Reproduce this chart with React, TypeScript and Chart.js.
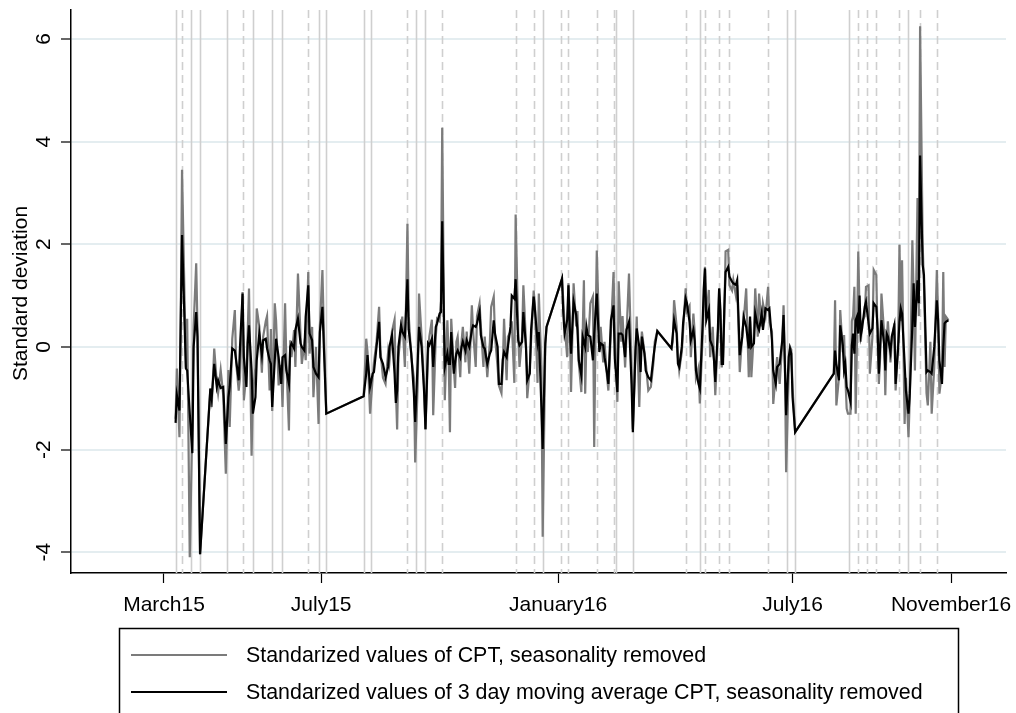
import React, { useEffect, useRef } from "react";
import { Chart, registerables } from "chart.js";

Chart.register(...registerables);

// Day numbers are counted from 1 March 2015.
const tickDays = [0, 122, 306, 488, 611];
const tickLabels = ["March15", "July15", "January16", "July16", "November16"];
const yTickValues = [-4, -2, 0, 2, 4, 6];

const eventDaysSolid = [9, 21, 28, 49, 69, 84, 92, 120, 126, 155, 161, 196, 203, 294, 351, 364, 416, 484, 490, 532, 578];
const eventDaysDashed = [14, 61, 112, 189, 216, 273, 287, 308, 314, 336, 349, 405, 420, 431, 439, 469, 539, 546, 553, 571, 587, 600];

const dayIndex = [
  9, 10, 12, 13, 14, 17, 18, 20, 22, 23, 25, 26, 28, 36, 37, 39, 41, 42, 44, 46, 48, 50, 51, 53, 55, 56, 58, 59, 61, 62,
  64, 65, 66, 68, 69, 71, 72, 74, 76, 77, 79, 80, 82, 83, 84, 86, 87, 89, 91, 92, 94, 95, 97, 98, 99, 101, 102, 104, 106, 107,
  109, 110, 112, 113, 115, 116, 118, 120, 121, 123, 124, 126,
  155, 157, 158, 160, 162, 163, 165, 167, 168, 170, 172, 174, 175, 177, 179, 180, 181, 182, 184, 185, 187, 189, 190, 192,
  194, 195, 197, 198, 200, 202, 203, 205, 206, 208, 209, 211, 212, 214, 215, 216, 218, 220, 221, 222, 223, 225, 226, 227, 228, 230,
  231, 232, 234, 235, 237, 239, 240, 242, 243, 245, 246, 248, 249, 251, 253, 254, 256, 257, 259, 260, 262, 263, 264, 266,
  267, 269, 270, 272, 273, 275, 276, 278, 279, 281, 282, 284, 285, 287, 288, 290, 291, 293, 294, 296, 297,
  309, 310, 311, 313, 314, 315, 316, 318, 320, 321, 322, 324, 325, 326, 327, 328, 329, 331, 333, 334, 335, 336, 338, 339, 341,
  342, 344, 345, 347, 349, 350, 352, 353, 355, 356, 358, 359, 361, 363, 364, 366, 367, 369, 370, 371, 373, 374, 376, 378, 380,
  381, 383, 394, 395, 396, 398, 399, 400, 402, 403, 405, 406, 408, 409, 411, 412, 413, 415, 416, 418, 419, 420, 421, 423, 424,
  426, 427, 428, 430, 431, 432, 433, 434, 435, 436, 438, 439, 441, 442, 444, 445, 446, 447, 449, 450, 452, 454, 455, 456, 458,
  459, 461, 462, 464, 465, 467, 469, 470, 472, 473, 475, 476, 478, 480, 481, 482, 483, 485, 486, 487, 488, 490,
  520, 521, 522, 524, 525, 527, 528, 529, 530, 531, 533, 534, 535, 536, 537, 538, 539, 540, 541, 542, 544, 545, 547, 548, 550,
  551, 553, 554, 555, 556, 557, 559, 560, 561, 562, 564, 565, 567, 568, 570, 571, 572, 573, 575, 576, 578, 579, 581, 582, 583,
  585, 586, 587, 589, 590, 592, 593, 595, 596, 598, 600, 601, 602, 604, 605, 606, 607, 609,
];

// Standardized CPT, seasonality removed
const cptValues = [
  -1.4, -0.42, -1.76, 0.6, 3.45, -0.4, 0.55, -4.1, -1.5, 0.4, 1.63, 0.4, -4.04, -0.81, -1.17, -0.03, -0.7, -0.9, -0.45, -0.95, -2.47, -0.45, -1.56, 0.16, 0.72, -0.3, -0.85, -0.6, 1.07, -1.04,
  -0.5, 0.3, 1.14, -2.12, -0.9, -0.4, 0.75, 0.4, -0.5, 0.2, 0.5, 0.6, -0.85, 0.35, -1.25, 0.85, 0.52, -0.75, -0.35, -1.17, 0.85, -0.3, -1.63, 0.13, -0.2, 0.33, -0.39, 1.43, 0.23, -0.33,
  0.07, -0.26, 1.46, -0.13, 0.39, -0.98, 0.0, -1.5, 0.39, 1.5, 0.39, -1.3,
  -0.96, 0.16, -0.1, -1.3, -0.6, -0.3, 0.1, 0.78, -0.05, -0.6, -0.72, -0.1, -0.3, 0.3, 0.53, -0.8, -1.61, -0.2, 0.3, 0.59, -0.39, 2.4, 0.6, -0.2,
  -0.6, -2.25, -0.7, 1.04, 0.2, -0.8, -1.62, -0.1, 0.2, 0.53, -1.33, 0.2, 0.55, 0.5, 0.9, 4.27, -1.04, 0.52, -0.2, -1.66, 0.55, -0.4, -0.8, 0.1, 0.2, -0.59,
  0.1, 0.39, -0.3, 0.3, -0.52, 0.81, 0.3, -0.39, 0.6, 0.85, 0.4, -0.39, 0.2, -0.59, 0.1, 0.78, 0.98, 0.2, -0.4, -0.75, -0.9, -0.4, 0.55, -0.65,
  0.2, 0.3, 0.5, -0.7, 2.58, 0.3, -0.39, 0.2, 1.2, 0.1, -1.0, -0.39, 0.1, 1.1, 0.8, -0.7, 1.04, -0.4, -3.7, 0.0, 0.39,
  1.33, 0.9, 0.46, -0.2, 1.24, 0.6, -0.88, 1.24, 0.4, 0.7, -0.3, -0.88, 0.2, 1.3, -0.91, 0.2, -0.1, 0.85, 0.98, -1.95, 0.3, 1.88, 0.1, 0.39, -0.3,
  0.1, -0.6, -0.85, 0.3, 1.46, 0.2, -1.07, 1.28, 0.1, 0.6, -0.4, 0.2, 1.43, -0.4, -1.6, -0.2, 0.59, -1.17, -0.2, 0.3, -0.1, -0.3, -0.85, -0.78, -0.3,
  0.1, 0.31, -0.03, 0.1, 0.91, 0.4, -0.2, -0.46, -0.1, 0.3, 1.14, 0.7, 0.8, -0.2, 0.65, 0.3, -0.6, -0.4, -1.1, 0.1, 0.8, 1.56, 0.6, 1.11, -0.2,
  0.39, -0.2, -0.94, 0.2, 1.14, 0.5, -0.4, -0.2, 0.6, 1.86, 1.89, 1.2, 1.1, 1.3, 1.0, 1.2, 0.4, -0.49, 0.3, 0.5, 1.14, -0.59, 0.5, -0.59, 0.3,
  1.14, 0.2, 1.04, 0.4, 0.85, 0.6, 1.17, 0.5, 0.3, -1.11, -0.5, -0.2, -0.72, 0.1, 0.81, -0.2, -2.44, -0.5, 0.0, -0.05, -0.8, -1.66,
  -0.52, 0.91, -1.14, -0.6, 0.72, -0.1, 0.23, -0.6, -1.2, -1.3, -1.3, 0.5, 0.6, 1.17, -1.3, 0.1, 1.86, 0.7, 0.1, 0.5, 0.6, 1.17, 1.2, -0.52, 0.2,
  1.5, 1.4, 0.2, -0.72, -0.2, 1.04, 0.3, -0.94, 0.1, 0.5, -0.3, 0.1, 0.46, -0.85, 0.1, 1.99, 0.5, 1.69, -1.5, -0.6, -1.76, -1.0, 2.08, 1.0, -0.46,
  2.9, 0.6, 6.25, 2.0, 1.2, -0.9, -1.14, 0.1, -1.3, -0.4, 1.5, 0.6, -0.91, -0.5, 1.46, -0.39, 0.59, 0.52,
];

// Standardized 3 day moving average of CPT, seasonality removed
const cptMA3Values = [
  -1.48, -0.94, -1.24, 0.52, 2.18, -0.42, -0.46, -1.3, -2.07, 0.0, 0.68, 0.2, -4.04, -0.81, -1.0, -0.33, -0.78, -0.65, -0.8, -0.78, -1.89, -0.98, -0.78, -0.03, -0.07, -0.26, -0.65, 0.0, 1.04, -0.2,
  -0.78, 0.07, 0.42, -0.46, -1.3, -0.98, -0.26, 0.26, -0.16, 0.13, 0.16, -0.03, -0.26, -0.33, -1.17, -0.26, 0.16, -0.2, -0.72, -0.2, -0.16, -0.46, -0.72, 0.0, 0.07, -0.03, 0.33, 0.55, 0.07, 0.0,
  -0.07, 0.59, 1.2, 0.26, 0.13, -0.39, -0.52, -0.59, 0.29, 0.78, 0.07, -1.3,
  -0.96, -0.52, -0.16, -0.78, -0.52, -0.49, 0.0, 0.49, -0.2, -0.33, -0.59, -0.39, 0.0, 0.23, -0.52, -1.09, -0.85, 0.0, 0.42, 0.3, 0.2, 1.32, 0.33, -0.13,
  -0.91, -1.46, -0.26, 0.39, 0.0, -0.91, -1.6, 0.07, 0.03, 0.16, -0.39, 0.39, 0.46, 0.65, 0.68, 2.45, -0.39, -0.13, -0.33, -0.33, 0.29, -0.52, -0.29, -0.13, -0.07, -0.2,
  0.0, 0.1, -0.07, 0.13, 0.0, 0.33, 0.42, 0.39, 0.46, 0.68, 0.23, 0.0, -0.03, -0.33, -0.13, -0.07, 0.52, 0.26, 0.0, -0.72, -0.72, -0.25, -0.1, -0.2,
  0.0, 0.39, 1.0, 0.94, 1.32, 0.13, 0.03, 0.1, 0.68, 0.0, -0.65, -0.52, 0.33, 0.98, 0.72, 0.1, 0.29, -1.17, -1.99, 0.07, 0.39,
  1.33, 0.65, 0.26, 0.52, 1.2, 0.39, -0.13, 0.88, 0.62, 0.33, -0.26, -0.55, 0.2, 0.1, 0.0, 0.39, 0.23, 0.2, -0.26, 0.26, 0.65, 1.04, -0.1, 0.07, 0.03,
  -0.2, -0.52, -0.72, 0.52, 0.81, -0.23, -0.88, 0.26, 0.26, 0.23, -0.2, 0.33, 0.49, -0.72, -1.66, -0.07, 0.36, 0.0, -0.49, 0.2, -0.13, -0.46, -0.59, -0.65, -0.2,
  0.0, 0.31, -0.03, 0.23, 0.52, 0.26, -0.33, -0.39, 0.0, 0.46, 0.94, 0.85, 0.49, 0.13, 0.33, 0.13, -0.46, -0.72, -0.81, 0.33, 1.12, 1.53, 0.52, 0.72, 0.13,
  0.0, -0.26, -0.68, 0.33, 1.14, 0.72, -0.33, -0.33, 0.75, 1.46, 1.56, 1.37, 1.27, 1.24, 1.21, 1.3, 0.59, -0.16, 0.2, 0.59, 0.39, -0.03, 0.59, 0.0, 0.07,
  0.65, 0.39, 0.33, 0.65, 0.33, 0.75, 0.72, 0.75, 0.13, -0.46, -0.72, -0.39, -0.33, 0.13, 0.62, -0.33, -1.33, -0.2, -0.03, -0.13, -0.98, -1.66,
  -0.52, -0.07, -0.33, -0.65, 0.42, 0.03, -0.46, -0.33, -0.78, -0.85, -1.07, 0.03, 0.26, -0.13, 0.52, 0.59, 0.26, 1.0, 0.23, 0.36, 0.78, 0.88, 0.46, 0.26, 0.36,
  0.85, 0.78, 0.36, -0.52, 0.0, 0.52, 0.07, -0.46, 0.26, 0.2, -0.1, 0.2, 0.42, -0.72, 0.0, 0.49, 0.75, 0.65, -0.33, -0.85, -1.3, -0.91, 0.42, 1.24, 0.39,
  1.3, 0.85, 3.73, 1.6, 1.4, -0.49, -0.46, -0.49, -0.52, 0.0, 0.91, 0.52, -0.26, -0.72, 0.0, 0.46, 0.49, 0.52,
];

const FONT = '"Liberation Sans", Arial, sans-serif';
const legendLabels = [
  "Standarized values of CPT, seasonality removed",
  "Standarized values of 3 day moving average CPT, seasonality removed",
];
const seriesColors = ["#7b7b7b", "#000000"];

const decorations = {
  id: "decorations",
  beforeDatasetsDraw(chart: any) {
    const { ctx, chartArea, scales } = chart;
    ctx.save();
    ctx.strokeStyle = "#cfcfcf";
    ctx.lineWidth = 1.6;
    const drawAt = (d: number) => {
      const x = Math.round(scales.x.getPixelForValue(d)) + 0.5;
      ctx.beginPath();
      ctx.moveTo(x, chartArea.top);
      ctx.lineTo(x, chartArea.bottom);
      ctx.stroke();
    };
    ctx.setLineDash([]);
    eventDaysSolid.forEach(drawAt);
    ctx.setLineDash([8, 5]);
    eventDaysDashed.forEach(drawAt);
    ctx.restore();
  },
  afterDraw(chart: any) {
    const { ctx, chartArea, scales } = chart;
    ctx.save();
    ctx.fillStyle = "#000";
    ctx.font = `21px ${FONT}`;

    // y tick labels, turned to read upward
    yTickValues.forEach((v) => {
      const y = scales.y.getPixelForValue(v);
      ctx.save();
      ctx.translate(50, y);
      ctx.rotate(-Math.PI / 2);
      ctx.textAlign = "center";
      ctx.textBaseline = "alphabetic";
      ctx.fillText(String(v), 0, 0);
      ctx.restore();
    });

    // y axis title
    ctx.save();
    ctx.translate(27, (chartArea.top + chartArea.bottom) / 2 + 2);
    ctx.rotate(-Math.PI / 2);
    ctx.textAlign = "center";
    ctx.textBaseline = "alphabetic";
    ctx.fillText("Standard deviation", 0, 0);
    ctx.restore();

    // x tick labels
    ctx.textAlign = "center";
    ctx.textBaseline = "middle";
    tickDays.forEach((d, i) => {
      ctx.fillText(tickLabels[i], scales.x.getPixelForValue(d), chartArea.bottom + 32);
    });

    // legend box
    const boxLeft = 119.5;
    const boxRight = 958.5;
    const boxTop = 628.5;
    ctx.strokeStyle = "#000";
    ctx.lineWidth = 1.5;
    ctx.beginPath();
    ctx.moveTo(boxLeft, chart.height + 5);
    ctx.lineTo(boxLeft, boxTop);
    ctx.lineTo(boxRight, boxTop);
    ctx.lineTo(boxRight, chart.height + 5);
    ctx.stroke();

    ctx.font = `21.4px ${FONT}`;
    const rows = [655, 692];
    legendLabels.forEach((label, i) => {
      ctx.strokeStyle = seriesColors[i];
      ctx.lineWidth = 2;
      ctx.beginPath();
      ctx.moveTo(131, rows[i]);
      ctx.lineTo(227, rows[i]);
      ctx.stroke();
      ctx.fillStyle = "#000";
      ctx.textAlign = "left";
      ctx.textBaseline = "middle";
      ctx.fillText(label, 246, rows[i] + 1);
    });
    ctx.restore();
  },
};

export default function App() {
  const canvasRef = useRef<HTMLCanvasElement | null>(null);

  useEffect(() => {
    document.body.style.margin = "0";
    const canvas = canvasRef.current;
    if (!canvas) return;

    const grayPoints = dayIndex.map((d, i) => ({ x: d, y: cptValues[i] }));
    const blackPoints = dayIndex.map((d, i) => ({ x: d, y: cptMA3Values[i] }));

    const chart = new Chart(canvas, {
      type: "line",
      data: {
        datasets: [
          {
            label: legendLabels[0],
            data: grayPoints,
            borderColor: seriesColors[0],
            borderWidth: 2.2,
            pointRadius: 0,
            tension: 0,
            order: 2,
          },
          {
            label: legendLabels[1],
            data: blackPoints,
            borderColor: seriesColors[1],
            borderWidth: 2.2,
            pointRadius: 0,
            tension: 0,
            order: 1,
          },
        ],
      },
      options: {
        animation: false,
        responsive: false,
        maintainAspectRatio: false,
        events: [],
        layout: { padding: { left: 0, top: 10, right: 10, bottom: 95 } },
        plugins: {
          legend: { display: false },
          tooltip: { enabled: false },
          title: { display: false },
        },
        scales: {
          x: {
            type: "linear",
            min: -72.2,
            max: 653.7,
            afterBuildTicks: (scale: any) => {
              scale.ticks = tickDays.map((v) => ({ value: v }));
            },
            afterFit: (scale: any) => {
              scale.height = 45;
            },
            ticks: { display: false },
            grid: {
              drawOnChartArea: false,
              drawTicks: true,
              tickLength: 10,
              tickColor: "#000",
              tickWidth: 1.2,
            },
            border: { display: true, color: "#000", width: 1.5 },
          },
          y: {
            type: "linear",
            min: -4.405,
            max: 6.565,
            afterBuildTicks: (scale: any) => {
              scale.ticks = yTickValues.map((v) => ({ value: v }));
            },
            afterFit: (scale: any) => {
              scale.width = 71;
            },
            ticks: { display: false },
            grid: {
              color: "#e4edf0",
              lineWidth: 2,
              drawTicks: true,
              tickLength: 10,
              tickColor: "#000",
              tickWidth: 1.2,
            },
            border: { display: true, color: "#000", width: 1.5 },
          },
        },
      },
      plugins: [decorations],
    });

    return () => chart.destroy();
  }, []);

  return (
    <div style={{ width: 1016, height: 713, background: "#fff" }}>
      <canvas ref={canvasRef} width={1016} height={713} style={{ display: "block" }} />
    </div>
  );
}
